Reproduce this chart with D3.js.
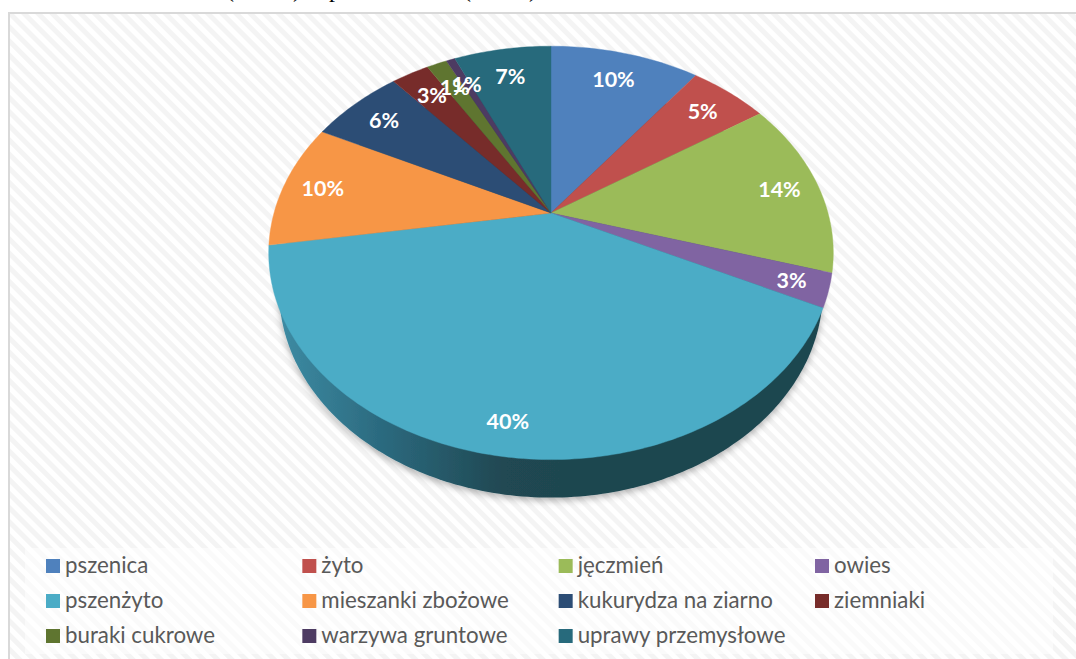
<!DOCTYPE html>
<html>
<head>
<meta charset="utf-8">
<script src="https://cdn.jsdelivr.net/npm/d3@7"></script>
<style>
  body { margin: 0; background: #fff; overflow: hidden; }
  svg { display: block; }
  .legend text { font: 22.3px Lato, sans-serif; fill: #595959; }
  .label { font: bold 21.5px Lato, sans-serif; fill: #fff; text-anchor: middle; dominant-baseline: central; }
  .clipped { font: 24px "Liberation Serif", serif; fill: #000; text-anchor: middle; }
</style>
</head>
<body>
<script>
'use strict';

// values, percent of area
var categories = ['pszenica', 'żyto', 'jęczmień', 'owies', 'pszenżyto', 'mieszanki zbożowe',
  'kukurydza na ziarno', 'ziemniaki', 'buraki cukrowe', 'warzywa gruntowe', 'uprawy przemysłowe'];
var values = [10.3, 5.4, 13.9, 2.6, 40.3, 9.8, 6.4, 2.6, 1.4, 0.6, 6.7];
var colors = ['#4f81bd', '#c0504d', '#9bbb59', '#8064a2', '#4bacc6', '#f79646',
  '#2c4d75', '#772c2a', '#5f7530', '#4d3b62', '#276a7c'];

// what is left of the cropped heading above the frame
var headingGlyphs = ['(', ')', 'p', '(', ')'];
var headingX = [230, 297, 335, 467, 533];

var width = 1076;
var height = 659;

var svg = d3.select('body').append('svg').attr('width', width).attr('height', height);
var defs = svg.append('defs');

// striped chart area
var stripes = defs.append('pattern').attr('id', 'stripes').attr('patternUnits', 'userSpaceOnUse')
  .attr('width', 10).attr('height', 10).attr('patternTransform', 'rotate(45)');
stripes.append('rect').attr('width', 10).attr('height', 10).attr('fill', '#fff');
stripes.append('rect').attr('width', 10).attr('height', 5).attr('fill', '#f4f4f4');

var wallGradient = defs.append('linearGradient').attr('id', 'wall')
  .attr('gradientUnits', 'userSpaceOnUse').attr('x1', 280).attr('x2', 560).attr('y1', 0).attr('y2', 0);
wallGradient.append('stop').attr('offset', 0).attr('stop-color', '#3d8ba3');
wallGradient.append('stop').attr('offset', 0.35).attr('stop-color', '#2c6b80');
wallGradient.append('stop').attr('offset', 0.8).attr('stop-color', '#204852');
wallGradient.append('stop').attr('offset', 1).attr('stop-color', '#1f4650');

var shadow = defs.append('filter').attr('id', 'shadow')
  .attr('x', '-10%').attr('y', '-10%').attr('width', '120%').attr('height', '120%');
shadow.append('feDropShadow').attr('dx', 0).attr('dy', 3).attr('stdDeviation', 3.5)
  .attr('flood-color', '#000').attr('flood-opacity', 0.3);

svg.append('rect').attr('x', 9).attr('y', 13).attr('width', width).attr('height', height)
  .attr('fill', 'url(#stripes)').attr('stroke', '#d9d9d9').attr('stroke-width', 2);

svg.selectAll('.clipped').data(headingGlyphs).enter().append('text')
  .attr('class', 'clipped')
  .attr('x', function (d, i) { return headingX[i]; })
  .attr('y', -3)
  .text(function (d) { return d; });

// perspective view of the disc: a circle seen from above, centre pushed up
var pieX = 551;
var pieY = 213;
var radiusX = 277;
var radiusY = 199;
var tilt = -0.193;
var depth = 38;

function project(angle, r) {
  var u = Math.sin(angle) * r;
  var v = -Math.cos(angle) * r;
  var w = 1 + tilt * v;
  return [pieX + radiusX * u / w, pieY + radiusY * v / w];
}

var pie = d3.pie().sort(null).value(function (d) { return d; });
var arcs = pie(values);
var line = d3.line();

function slicePath(d) {
  var steps = Math.max(2, Math.ceil((d.endAngle - d.startAngle) * 60));
  var points = [[pieX, pieY]];
  d3.range(steps + 1).forEach(function (i) {
    points.push(project(d.startAngle + (d.endAngle - d.startAngle) * i / steps, 1));
  });
  return line(points) + 'Z';
}

// the side wall: same outline, moved down and a bit narrower, top disc covers the rest
var rimPoints = d3.range(361).map(function (i) { return project(i * Math.PI / 180, 1); });
var rimCentreY = (d3.min(rimPoints, function (p) { return p[1]; }) + d3.max(rimPoints, function (p) { return p[1]; })) / 2;
var wallPoints = rimPoints.map(function (p) {
  return [pieX + (p[0] - pieX) * 0.963, rimCentreY + depth + (p[1] - rimCentreY)];
});
svg.append('path').attr('d', line(wallPoints) + 'Z')
  .attr('fill', 'url(#wall)').attr('filter', 'url(#shadow)');

svg.selectAll('.slice').data(arcs).enter().append('path')
  .attr('class', 'slice')
  .attr('d', slicePath)
  .attr('fill', function (d, i) { return colors[i]; })
  .attr('stroke', function (d, i) { return colors[i]; })
  .attr('stroke-width', 0.4);

var percent = d3.format('.0%');
var total = d3.sum(values);

svg.selectAll('.label').data(arcs).enter().append('text')
  .attr('class', 'label')
  .attr('transform', function (d) {
    var mid = (d.startAngle + d.endAngle) / 2;
    // labels sit further out at the sides and towards the viewer
    var side = Math.sin(mid);
    var r = 0.81 + 0.045 * side * side + 0.07 * Math.max(0, -Math.cos(mid));
    return 'translate(' + project(mid, r) + ')';
  })
  .text(function (d) { return percent(d.value / total); });

// legend, four columns
svg.append('rect').attr('x', 25).attr('y', 548).attr('width', 1028).attr('height', 106)
  .attr('fill', '#fff').attr('fill-opacity', 0.55);

var colX = d3.scalePoint().domain(d3.range(4)).range([46, 815]);
var rowY = d3.scalePoint().domain(d3.range(3)).range([566, 636]);

var item = svg.append('g').attr('class', 'legend').selectAll('g').data(categories).enter().append('g')
  .attr('transform', function (d, i) {
    return 'translate(' + colX(i % 4) + ',' + rowY(Math.floor(i / 4)) + ')';
  });
item.append('rect').attr('x', 0).attr('y', -7).attr('width', 14).attr('height', 14)
  .attr('fill', function (d, i) { return colors[i]; });
item.append('text').attr('x', 19).attr('y', 7).text(function (d) { return d; });
</script>
</body>
</html>
